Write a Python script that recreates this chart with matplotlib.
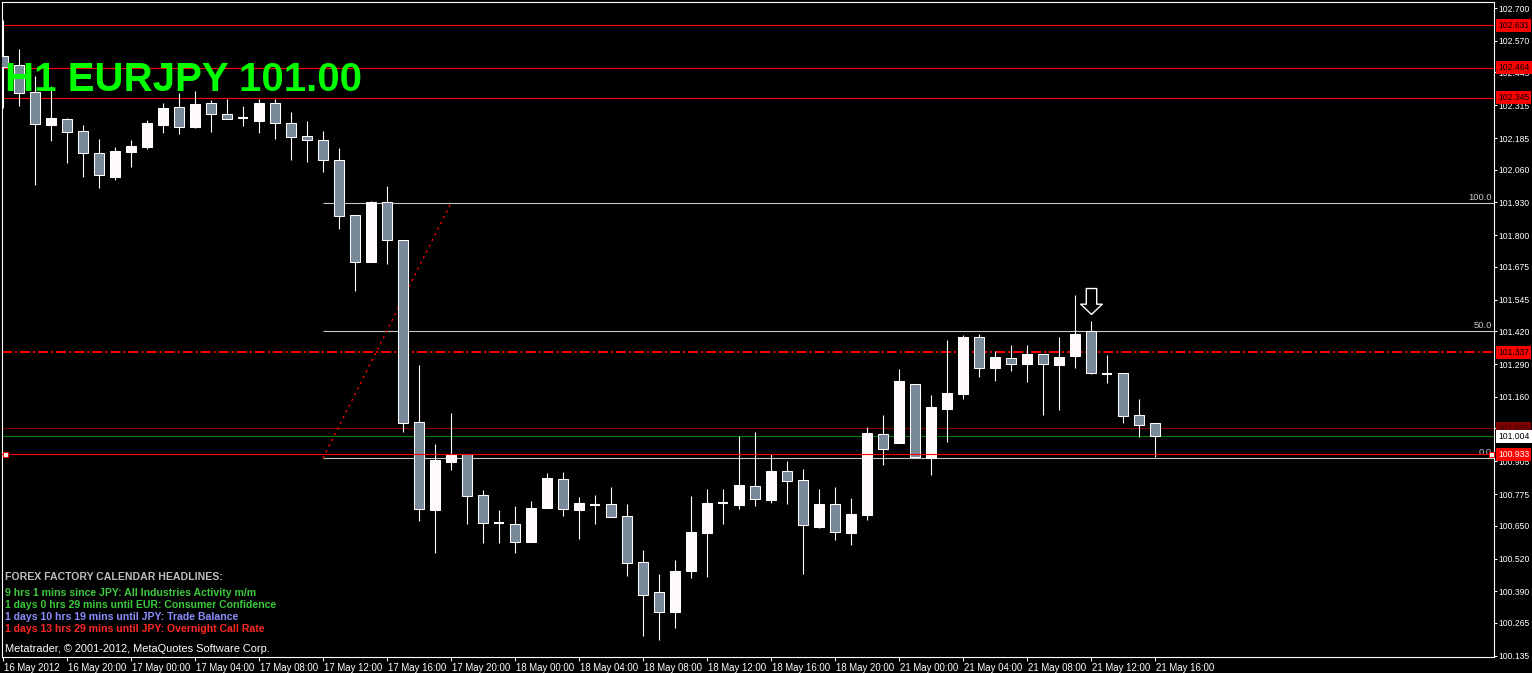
import matplotlib
matplotlib.use('Agg')
import matplotlib.pyplot as plt
import numpy as np
from matplotlib import transforms
from matplotlib.path import Path

plt.rcParams['font.family'] = ['Liberation Sans', 'DejaVu Sans']
plt.rcParams['lines.scale_dashes'] = False

W, H, DPI = 1532, 673, 100

# ---------------- data (EURJPY H1) ----------------
opens = [102.510, 102.474, 102.367, 102.237, 102.261, 102.213, 102.126, 102.031, 102.130, 102.150,
         102.237, 102.308, 102.229, 102.324, 102.280, 102.264, 102.253, 102.324, 102.245, 102.193,
         102.177, 102.098, 101.880, 101.694, 101.932, 101.781, 101.061, 100.712, 100.902, 100.934,
         100.772, 100.661, 100.657, 100.585, 100.720, 100.835, 100.712, 100.732, 100.736, 100.688,
         100.506, 100.387, 100.308, 100.471, 100.621, 100.740, 100.732, 100.807, 100.752, 100.867,
         100.831, 100.645, 100.736, 100.621, 100.692, 101.013, 100.977, 101.211, 100.918, 101.112,
         101.172, 101.397, 101.274, 101.314, 101.290, 101.330, 101.286, 101.322, 101.421, 101.251,
         101.255, 101.088, 101.057]
highs = [102.653, 102.538, 102.431, 102.391, 102.264, 102.237, 102.181, 102.150, 102.177, 102.257,
         102.324, 102.363, 102.371, 102.336, 102.340, 102.312, 102.340, 102.340, 102.288, 102.253,
         102.213, 102.146, 101.880, 101.936, 101.995, 101.781, 101.286, 100.974, 101.096, 100.934,
         100.791, 100.712, 100.728, 100.748, 100.859, 100.863, 100.764, 100.772, 100.803, 100.736,
         100.554, 100.459, 100.514, 100.768, 100.795, 100.795, 101.005, 101.021, 100.934, 100.906,
         100.875, 100.795, 100.803, 100.760, 101.041, 101.088, 101.271, 101.211, 101.168, 101.385,
         101.405, 101.409, 101.342, 101.366, 101.366, 101.330, 101.397, 101.564, 101.461, 101.326,
         101.255, 101.152, 101.057]
lows = [102.304, 102.312, 101.999, 102.173, 102.086, 102.031, 101.987, 102.019, 102.070, 102.142,
        102.205, 102.201, 102.225, 102.209, 102.261, 102.233, 102.205, 102.181, 102.098, 102.090,
        102.051, 101.825, 101.579, 101.694, 101.686, 101.021, 100.669, 100.542, 100.871, 100.657,
        100.581, 100.581, 100.542, 100.585, 100.720, 100.688, 100.597, 100.657, 100.684, 100.451,
        100.213, 100.197, 100.245, 100.443, 100.447, 100.657, 100.716, 100.728, 100.740, 100.736,
        100.459, 100.641, 100.593, 100.574, 100.673, 100.890, 100.977, 100.918, 100.851, 100.981,
        101.152, 101.239, 101.223, 101.263, 101.219, 101.088, 101.108, 101.274, 101.251, 101.215,
        101.057, 101.001, 100.922]
closes = [102.466, 102.363, 102.241, 102.264, 102.209, 102.126, 102.039, 102.134, 102.154, 102.245,
          102.304, 102.229, 102.320, 102.280, 102.261, 102.264, 102.324, 102.245, 102.189, 102.177,
          102.098, 101.876, 101.694, 101.932, 101.781, 101.057, 100.716, 100.910, 100.934, 100.768,
          100.661, 100.661, 100.585, 100.720, 100.839, 100.716, 100.740, 100.732, 100.684, 100.502,
          100.376, 100.308, 100.471, 100.625, 100.740, 100.740, 100.811, 100.756, 100.867, 100.827,
          100.653, 100.736, 100.625, 100.696, 101.017, 100.954, 101.223, 100.922, 101.120, 101.175,
          101.397, 101.274, 101.318, 101.290, 101.330, 101.290, 101.318, 101.409, 101.255, 101.251,
          101.084, 101.049, 101.004]

time_labels = ["16 May 2012", "16 May 20:00", "17 May 00:00", "17 May 04:00", "17 May 08:00",
               "17 May 12:00", "17 May 16:00", "17 May 20:00", "18 May 00:00", "18 May 04:00",
               "18 May 08:00", "18 May 12:00", "18 May 16:00", "18 May 20:00", "21 May 00:00",
               "21 May 04:00", "21 May 08:00", "21 May 12:00", "21 May 16:00"]
price_ticks = [102.700, 102.570, 102.445, 102.315, 102.185, 102.060, 101.930, 101.800, 101.675,
               101.545, 101.420, 101.290, 101.160, 101.035, 100.905, 100.775, 100.650, 100.520,
               100.390, 100.265, 100.135]
hidden_tick = 101.035   # covered by the ask label in the reference

resistance_levels = [102.631, 102.464, 102.345]
dashdot_level = 101.337
ask_level = 101.036
bid_level = 101.004
support_level = 100.933
fib_low, fib_high = 100.918, 101.928
fib_start_bar, fib_end_bar = 20, 28
signal_bar = 68
title_text = "H1 EURJPY 101.00"
headlines = [("FOREX FACTORY CALENDAR HEADLINES:", '#BEBEBE'),
             ("9 hrs 1 mins since JPY: All Industries Activity m/m", '#3CC83C'),
             ("1 days 0 hrs 29 mins until EUR: Consumer Confidence", '#3CC83C'),
             ("1 days 10 hrs 19 mins until JPY: Trade Balance", '#8C8CFF'),
             ("1 days 13 hrs 29 mins until JPY: Overnight Call Rate", '#FF2828')]
copyright_text = "Metatrader, \u00a9 2001-2012, MetaQuotes Software Corp."

# ---------------- figure ----------------
fig = plt.figure(figsize=(W / DPI, H / DPI), dpi=DPI, facecolor='black')
ax = fig.add_axes([2 / W, (H - 657) / H, (1494 - 2) / W, (657 - 2) / H], facecolor='black')
ax.set_xlim(-0.0625, 93.1875)
ax.set_ylim(100.130, 102.724)

x = np.arange(len(opens))
o = np.array(opens); c = np.array(closes)
hi = np.array(highs); lo = np.array(lows)
bull = c > o
bear = c < o
doji = c == o

ax.vlines(x, lo, hi, color='white', lw=0.8, zorder=3)
ax.bar(x[bull], (c - o)[bull], bottom=o[bull], width=0.625, color='#FFFAFA',
       edgecolor='white', lw=0.75, zorder=4)
ax.bar(x[bear], (o - c)[bear], bottom=c[bear], width=0.625, color='#778899',
       edgecolor='white', lw=0.75, zorder=4)
ax.hlines(o[doji], x[doji] - 0.34, x[doji] + 0.34, color='white', lw=1.5, zorder=4)

# horizontal lines
for lv in resistance_levels:
    ax.axhline(lv, color='#FF0000', lw=0.8, zorder=2)
ax.axhline(dashdot_level, color='#FF0000', lw=1.4, dashes=(7.2, 2.2, 1.4, 2.2), zorder=2)
ax.axhline(ask_level, color='#800000', lw=0.8, zorder=2)
ax.axhline(bid_level, color='#008000', lw=0.8, zorder=2)
ax.axhline(support_level, color='#FF0000', lw=0.8, zorder=5)
blend_ax = transforms.blended_transform_factory(ax.transAxes, ax.transData)
ax.plot([0.002, 0.998], [support_level, support_level], 's', ms=3.6, mfc='white',
        mec='#FF0000', mew=0.75, transform=blend_ax, zorder=6, clip_on=False)

# fibonacci
fib_mid = (fib_low + fib_high) / 2
xmax = ax.get_xlim()[1]
ax.hlines([fib_high, fib_mid, fib_low], fib_start_bar, xmax, color='#C8C8C8', lw=0.8, zorder=2)
ax.plot([fib_start_bar, fib_end_bar], [fib_low, fib_high], color='#FF0000', lw=1.0,
        linestyle=(0, (1.6, 3.0)), zorder=2)
for lv, lab in [(fib_high, '100.0'), (fib_mid, '50.0'), (fib_low, '0.0')]:
    ax.annotate(lab, xy=(1.0, lv), xycoords=('axes fraction', 'data'), xytext=(-2, 1),
                textcoords='offset pixels', ha='right', va='bottom', color='#C8C8C8',
                fontsize=6.8, zorder=3)

# arrow marker
arrow = Path([(-5.2, 13), (5.2, 13), (5.2, -2.7), (10.8, -2.7), (0, -13), (-10.8, -2.7),
              (-5.2, -2.7), (-5.2, 13)], closed=True)
ax.plot([signal_bar], [hi[signal_bar] + 0.078], marker=arrow, ms=18.7, mfc='black',
        mec='white', mew=1.0, ls='none', zorder=6)

# axes styling
for s in ax.spines.values():
    s.set_color('white')
    s.set_linewidth(0.8)
ax.yaxis.tick_right()
ax.set_yticks(price_ticks)
ax.set_yticklabels(['' if v == hidden_tick else f'{v:.3f}' for v in price_ticks])
ax.tick_params(axis='y', colors='white', direction='out', length=2.2, width=0.75,
               labelsize=6.2, pad=1.3)
ax.set_xticks(x[::4])
ax.set_xticklabels(time_labels)
ax.tick_params(axis='x', colors='white', direction='out', length=3, width=0.75,
               labelsize=6.9, pad=1.5)
shift = transforms.ScaledTranslation(1.5 / DPI, 0, fig.dpi_scale_trans)
for lbl in ax.get_xticklabels():
    lbl.set_ha('left')
    lbl.set_transform(lbl.get_transform() + shift)

# price labels on axis
blend_fig = transforms.blended_transform_factory(fig.transFigure, ax.transData)
for lv, bg, fg in [(resistance_levels[0], '#FF0000', 'black'), (resistance_levels[1], '#FF0000', 'black'),
                   (resistance_levels[2], '#FF0000', 'black'), (dashdot_level, '#FF0000', 'black'),
                   (ask_level, '#800000', '#3A0000'), (bid_level, 'white', 'black'),
                   (support_level, '#FF0000', 'white')]:
    fig.text(1498 / W, lv, f'{lv:.3f}', transform=blend_fig, ha='left', va='center',
             fontsize=6.2, color=fg, zorder=10,
             bbox=dict(boxstyle='square,pad=0.25', facecolor=bg, edgecolor='none'))

# title
fig.text(5 / W, 1 - 91 / H, title_text, color='#00FF00', fontsize=29, fontweight='bold',
         va='baseline', ha='left')

# headlines
baselines = [580.5, 595.5, 607.5, 619.5, 631.5]
for (txt, col), yb in zip(headlines, baselines):
    fig.text(5 / W, 1 - yb / H, txt, color=col, fontsize=7.6, fontweight='bold',
             va='baseline', ha='left')
fig.text(5 / W, 1 - 651.5 / H, copyright_text, color='white', fontsize=7.9,
         va='baseline', ha='left')

fig.savefig('out.png', dpi=DPI, facecolor='black')
